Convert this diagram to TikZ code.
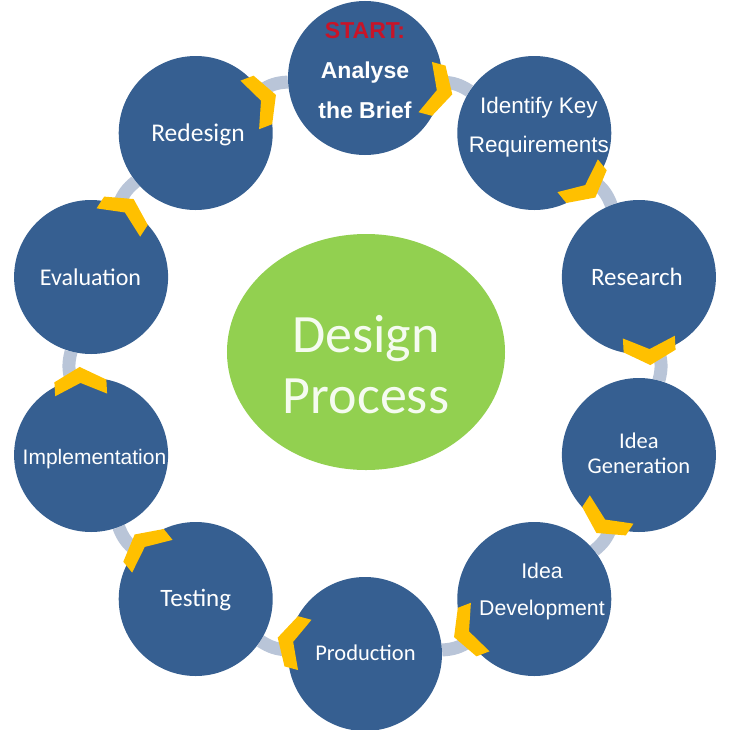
\documentclass[tikz,border=0pt]{standalone}
\usepackage{fontspec}
\setmainfont{Carlito}
\newfontfamily\arialf{Liberation Sans}
\usetikzlibrary{shapes.geometric,backgrounds}
\definecolor{stepblue}{RGB}{54,95,145}
\definecolor{hubgreen}{RGB}{146,208,80}
\definecolor{chevyellow}{RGB}{255,192,0}
\definecolor{barblue}{RGB}{185,197,216}
\definecolor{startred}{RGB}{200,20,40}
\definecolor{hubtext}{RGB}{245,251,240}
\tikzset{
  stepnode/.style={circle, fill=stepblue, minimum size=154pt, inner sep=0pt},
  steptext/.style={text=white, align=center},
  hubnode/.style={ellipse, fill=hubgreen, minimum width=278pt, minimum height=236pt, inner sep=0pt},
  barline/.style={draw=barblue, line width=13pt},
  chevshape/.style={fill=chevyellow},
}
\begin{document}
\begin{tikzpicture}[x=1pt,y=1pt]
\useasboundingbox (-365,-363) rectangle (370,366);

\node[hubnode, label={[text=hubtext, align=center, yshift=-12.5pt, font=\fontsize{54}{61}\selectfont]center:Design\\Process}] (hub) at (1,14) {};

\node[stepnode, label={[steptext, xshift=0pt, yshift=7pt, font=\arialf\bfseries\fontsize{23}{40}\selectfont]center:\textcolor{startred}{START:}\\Analyse\\the Brief}] (n0) at (90:288) {};
\node[stepnode, label={[steptext, xshift=4.7pt, yshift=6pt, font=\arialf\fontsize{22.5}{39.5}\selectfont]center:Identify Key\\Requirements}] (n1) at (54:288) {};
\node[stepnode, label={[steptext, xshift=-2pt, yshift=0pt, font=\fontsize{25}{30}\selectfont]center:Research}] (n2) at (18:288) {};
\node[stepnode, label={[steptext, xshift=0pt, yshift=1.5pt, font=\fontsize{22.5}{25}\selectfont]center:Idea\\Generation}] (n3) at (-18:288) {};
\node[stepnode, label={[steptext, xshift=7.7pt, yshift=8pt, font=\arialf\fontsize{21.3}{37}\selectfont]center:Idea\\Development}] (n4) at (-54:288) {};
\node[stepnode, label={[steptext, xshift=0.5pt, yshift=1pt, font=\fontsize{22.5}{27}\selectfont]center:Production}] (n5) at (-90:288) {};
\node[stepnode, label={[steptext, xshift=0pt, yshift=-1pt, font=\fontsize{25}{30}\selectfont]center:Testing}] (n6) at (-126:288) {};
\node[stepnode, label={[steptext, xshift=3.4pt, yshift=-4pt, font=\arialf\fontsize{21}{25}\selectfont]center:Implementation}] (n7) at (-162:288) {};
\node[stepnode, label={[steptext, xshift=-0.6pt, yshift=0pt, font=\fontsize{24}{29}\selectfont]center:Evaluation}] (n8) at (162:288) {};
\node[stepnode, label={[steptext, xshift=2.3pt, yshift=-2pt, font=\fontsize{25.5}{30}\selectfont]center:Redesign}] (n9) at (126:288) {};

\begin{scope}[on background layer]
  \foreach \a/\b in {n0/n1,n1/n2,n2/n3,n3/n4,n4/n5,n5/n6,n6/n7,n7/n8,n8/n9,n9/n0}
    \draw[barline] (\a) to[bend left=15] (\b);
\end{scope}

\foreach \k in {0,...,9} {
  \pgfmathsetmacro\ca{90-36*\k-15}
  \pgfmathsetmacro\rot{90-36*\k-105}
  \coordinate (chv\k) at (\ca:285);
  \fill[chevshape, shift={(chv\k)}, rotate=\rot] (-14,-26) -- (-2,0) -- (-14,26) -- (0,26) -- (14,0) -- (0,-26) -- cycle;
}
\end{tikzpicture}
\end{document}
